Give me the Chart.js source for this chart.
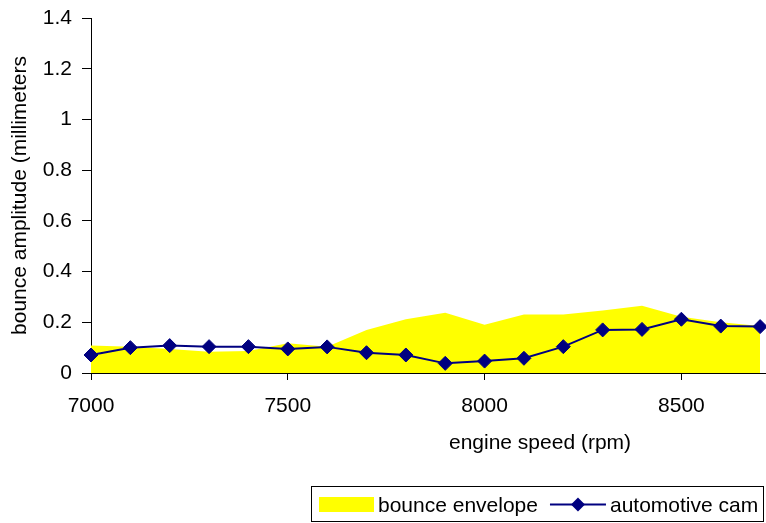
<!DOCTYPE html>
<html>
<head>
<meta charset="utf-8">
<script src="https://cdn.jsdelivr.net/npm/chart.js@4"></script>
<style>
  html, body { margin: 0; padding: 0; background: #fff; }
  #wrap { position: relative; width: 766px; height: 523px; }
</style>
</head>
<body>
<div id="wrap"><canvas id="myChart"></canvas></div>
<script>
// data block
const rpm = [7000, 7100, 7200, 7300, 7400, 7500, 7600, 7700, 7800, 7900, 8000, 8100, 8200, 8300, 8400, 8500, 8600, 8700];
const envelope = [0.108, 0.104, 0.095, 0.084, 0.087, 0.117, 0.104, 0.17, 0.212, 0.238, 0.19, 0.231, 0.231, 0.246, 0.265, 0.222, 0.2, 0.185];
const cam = [0.071, 0.1, 0.108, 0.104, 0.104, 0.095, 0.103, 0.08, 0.071, 0.038, 0.047, 0.058, 0.104, 0.17, 0.172, 0.212, 0.185, 0.183];
const xTicks = [7000, 7500, 8000, 8500];
const yTicks = [0, 0.2, 0.4, 0.6, 0.8, 1, 1.2, 1.4];
const xTitle = "engine speed (rpm)";
const yTitle = "bounce amplitude (millimeters";

const FONT = "'Liberation Sans', Arial, sans-serif";
Chart.defaults.font.family = FONT;
Chart.defaults.font.size = 21;
Chart.defaults.color = "#000";

// excel-ish legend box and the off-centre x title, drawn after the chart
const excelBits = {
  id: "excelBits",
  afterDraw(chart) {
    const ctx = chart.ctx;
    const ds = chart.data.datasets;
    ctx.save();
    ctx.font = "21px " + FONT;
    ctx.fillStyle = "#000";
    ctx.textBaseline = "alphabetic";

    // x axis title, centred under the (wider) excel plot area
    ctx.textAlign = "center";
    ctx.fillText(xTitle, 540, 449);

    // legend
    ctx.textAlign = "left";
    const midY = 504.5;
    let x = 319;
    ctx.fillStyle = ds[0].backgroundColor;
    ctx.fillRect(x, 497, 55, 15);
    x += 59;
    ctx.fillStyle = "#000";
    ctx.fillText(ds[0].label, x, 512);
    x += ctx.measureText(ds[0].label).width + 12;

    ctx.strokeStyle = ds[1].borderColor;
    ctx.lineWidth = 2;
    ctx.beginPath();
    ctx.moveTo(x, midY);
    ctx.lineTo(x + 56, midY);
    ctx.stroke();
    const cx = x + 28;
    ctx.fillStyle = ds[1].backgroundColor;
    ctx.beginPath();
    ctx.moveTo(cx - 7, midY);
    ctx.lineTo(cx, midY - 7);
    ctx.lineTo(cx + 7, midY);
    ctx.lineTo(cx, midY + 7);
    ctx.closePath();
    ctx.fill();
    x += 60;
    ctx.fillStyle = "#000";
    ctx.fillText(ds[1].label, x, 512);

    ctx.strokeStyle = "#000";
    ctx.lineWidth = 1;
    ctx.strokeRect(311.5, 486.5, 452, 35);
    ctx.restore();
  },
};

// setup block
const data = {
  datasets: [
    {
      label: "bounce envelope",
      data: rpm.map((r, i) => ({ x: r, y: envelope[i] })),
      backgroundColor: "#ffff00",
      borderColor: "#ffff00",
      borderWidth: 0,
      pointRadius: 0,
      fill: "origin",
      order: 2,
    },
    {
      label: "automotive cam",
      data: rpm.map((r, i) => ({ x: r, y: cam[i] })),
      backgroundColor: "#000080",
      borderColor: "#000080",
      borderWidth: 2,
      pointStyle: "rectRot",
      pointRadius: 7,
      pointBorderWidth: 1,
      fill: false,
      clip: false,
      order: 1,
    },
  ],
};

// config block
const config = {
  type: "line",
  data,
  options: {
    responsive: true,
    maintainAspectRatio: false,
    animation: false,
    layout: { autoPadding: false, padding: { top: 18, left: 0, right: 0, bottom: 0 } },
    plugins: {
      legend: { display: false },
      tooltip: { enabled: false },
    },
    scales: {
      x: {
        type: "linear",
        min: 7000,
        max: 8715,
        afterBuildTicks: (scale) => { scale.ticks = xTicks.map((v) => ({ value: v })); },
        afterFit: (scale) => {
          scale.height = 150;
          scale.paddingLeft = 0;
          scale.paddingRight = 0;
        },
        ticks: { padding: 14, maxRotation: 0, callback: (v) => String(v) },
        grid: { drawOnChartArea: false, tickLength: 7, color: "#000" },
        border: { color: "#000", width: 1 },
      },
      y: {
        min: 0,
        max: 1.4,
        afterBuildTicks: (scale) => { scale.ticks = yTicks.map((v) => ({ value: v })); },
        afterFit: (scale) => {
          scale.width = 91;
          scale.paddingTop = 0;
          scale.paddingBottom = 0;
        },
        ticks: { padding: 10, callback: (v) => String(+v.toFixed(1)) },
        grid: { drawOnChartArea: false, tickLength: 9, color: "#000" },
        border: { color: "#000", width: 1 },
        title: { display: true, text: yTitle, padding: { top: 8, bottom: 0 } },
      },
    },
  },
  plugins: [excelBits],
};

// render init block
const myChart = new Chart(document.getElementById("myChart"), config);
</script>
</body>
</html>
